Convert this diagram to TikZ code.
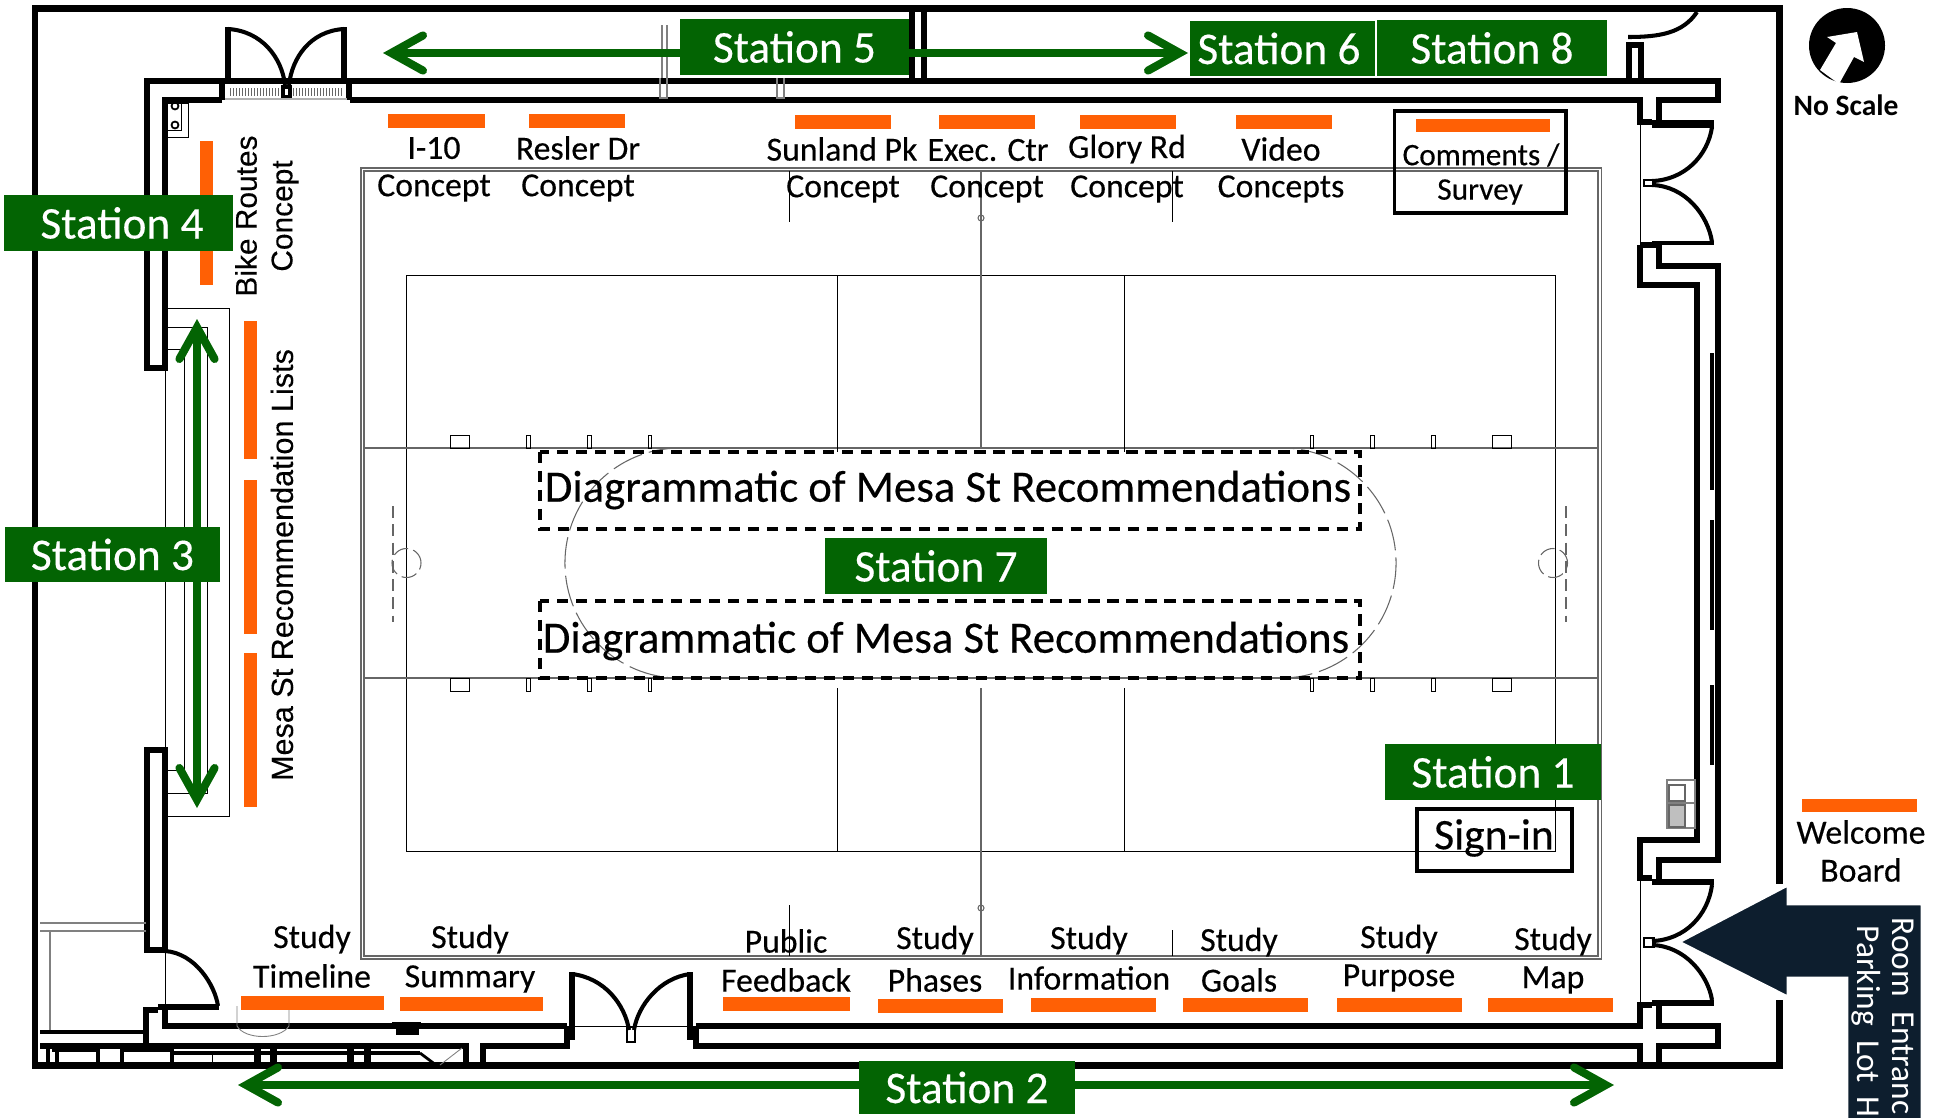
\documentclass[tikz,border=0pt]{standalone}
\usepackage{fontspec}
\setmainfont{Carlito}
\newfontfamily\heavyfont[FakeBold=0.35]{Carlito}
\newfontfamily\arialfont[FakeBold=0.2]{Liberation Sans}
\usetikzlibrary{arrows.meta}
\definecolor{stgreen}{HTML}{036403}
\definecolor{barorange}{HTML}{FF6005}
\definecolor{navy}{HTML}{0D1E2E}
\tikzset{
	wall/.style={line width=1.45pt,line join=miter},
	outerwall/.style={line width=1.9pt,line join=miter},
	door/.style={line width=1.15pt},
	thin/.style={line width=0.25pt},
	court/.style={line width=0.3pt,black!60},
	station/.style={fill=stgreen,text=white,inner sep=0pt,font=\heavyfont\fontsize{12.9}{14}\selectfont},
	lab/.style={inner sep=0pt,font=\heavyfont\fontsize{9.6}{11}\selectfont},
	side/.style={inner sep=0pt,rotate=90,font=\arialfont\fontsize{8.5}{10}\selectfont},
	bar/.style={fill=barorange,draw=none},
	walkway/.style={line width=2.3pt,stgreen,line cap=round},
	tipbarb/.tip={Straight Barb[length=9pt,width=10pt,line cap=round,line join=miter]},
	signbox/.style={draw,line width=1.1pt,inner sep=0pt},
	dashbox/.style={line width=1pt,dash pattern=on 3.2pt off 2.2pt}
}
\begin{document}
\begin{tikzpicture}[x=0.01cm,y=-0.01cm]
	\useasboundingbox (0,0) rectangle (1939,1118);

	\draw[court] (361,168) rectangle (1601.5,959);
	\draw[court] (364,171) rectangle (1598,956);
	\draw[thin] (406,275) rectangle (1555,851);
	\draw[court] (364,448) -- (1598,448);
	\draw[court] (364,678) -- (1598,678);
	\draw[thin] (837,275) -- (837,452);
	\draw[thin] (1124,275) -- (1124,452);
	\draw[thin] (837,688) -- (837,851);
	\draw[thin] (1124,688) -- (1124,851);
	\draw[court] (981,171) -- (981,448);
	\draw[court] (981,688) -- (981,956);
	\draw[court] (981,218) circle (3);
	\draw[court] (981,908) circle (3);
	\draw[thin] (789,171) -- (789,222);
	\draw[thin] (1172,171) -- (1172,222);
	\draw[thin] (789,905) -- (789,956);
	\draw[thin] (1172,930) -- (1172,956);

	\draw[thin] (450,435) rectangle (469,448);
	\draw[thin] (526,435) rectangle (530,448);
	\draw[thin] (587,435) rectangle (591,448);
	\draw[thin] (648,435) rectangle (651,448);
	\draw[thin] (450,678) rectangle (469,691);
	\draw[thin] (526,678) rectangle (530,691);
	\draw[thin] (587,678) rectangle (591,691);
	\draw[thin] (648,678) rectangle (651,691);
	\draw[thin] (1492,435) rectangle (1511,448);
	\draw[thin] (1431,435) rectangle (1435,448);
	\draw[thin] (1370,435) rectangle (1374,448);
	\draw[thin] (1310,435) rectangle (1313,448);
	\draw[thin] (1492,678) rectangle (1511,691);
	\draw[thin] (1431,678) rectangle (1435,691);
	\draw[thin] (1370,678) rectangle (1374,691);
	\draw[thin] (1310,678) rectangle (1313,691);

	\draw[court,dash pattern=on 3.4pt off 1.8pt] (393,506) -- (393,622);
	\draw[court,dash pattern=on 3.4pt off 1.8pt] (1566,506) -- (1566,622);
	\draw[court,dash pattern=on 4.5pt off 1.5pt] (406.5,563) circle[radius=.145cm];
	\draw[court,dash pattern=on 4.5pt off 1.5pt] (1553,563) circle[radius=.145cm];
	\draw[court,dash pattern=on 9pt off 2pt] (680,448) arc[start angle=90,end angle=270,radius=1.15cm];
	\draw[court,dash pattern=on 9pt off 2pt] (1281,678) arc[start angle=270,end angle=450,radius=1.15cm];

	\draw[outerwall] (35,8.5) rectangle (1779.5,1065.5);
	\fill[white] (1770,884) rectangle (1790,1000);

	\draw[wall] (222,100) -- (165,100) -- (165,368) -- (147,368) -- (147,81) -- (1718,81) -- (1718,100) -- (1659,100) -- (1659,122);
	\draw[wall] (350,100) -- (1640,100) -- (1640,122) -- (1652,122);
	\draw[wall] (222,81) -- (222,100);
	\draw[wall] (349,81) -- (349,100);
	\draw[wall] (912,8.5) -- (912,81);
	\draw[wall] (924,8.5) -- (924,81);
	\draw[wall] (228,27) -- (228,81);
	\draw[wall] (344,27) -- (344,81);
	\draw[door] (228,29) .. controls (262,31) and (282,58) .. (285,85);
	\draw[door] (344,29) .. controls (310,31) and (292,58) .. (289,85);
	\draw[line width=1pt] (283,87) rectangle (290,97);
	\foreach \hx in {230,233,...,280,293,296,...,342} {\draw[line width=0.2pt,black!60] (\hx,88) -- (\hx,96);}
	\draw[line width=0.3pt,black!30] (225,99) -- (347,99);

	\draw[thin] (167,103) rectangle (188,137);
	\draw[thin] (167,103) rectangle (181,130);
	\draw[line width=0.5pt] (175,106) circle (3.5);
	\draw[line width=0.5pt] (175,125) circle (3.5);

	\draw[thin] (165,308) -- (229,308) -- (229,816) -- (165,816);
	\draw[thin] (165,327) -- (207,327) -- (207,793) -- (165,793);
	\draw[thin] (165,349) -- (184,349) -- (184,770) -- (165,770);
	\draw[thin] (165,368) -- (165,750);

	\draw[wall] (147,750) rectangle (165,950);
	\draw[door] (165,951) .. controls (195,953) and (215,985) .. (218,1006);
	\draw[thin] (165,951) -- (165,1008);
	\draw[line width=1.7pt] (158,1007) -- (219,1007);
	\draw[wall] (158,1010) -- (146,1010) -- (146,1046);
	\draw[wall] (165,1010) -- (165,1026) -- (567,1026);
	\fill (392,1022) rectangle (421,1028);
	\fill (396,1028) rectangle (419,1035);
	\draw[thin,black!50] (237,1006) -- (237,1026) .. controls (245,1040) and (280,1040) .. (289,1026) -- (289,1006);

	\draw[wall] (40,1046) -- (466,1046) -- (466,1065);
	\draw[wall] (483,1065) -- (483,1046) -- (567,1046) -- (567,1026);
	\draw[wall] (696,1026) -- (696,1046) -- (1640,1046) -- (1640,1065);
	\draw[wall] (696,1026) -- (1640,1026) -- (1640,1005) -- (1652,1005);
	\draw[wall] (572,972) -- (572,1040);
	\draw[wall] (690,972) -- (690,1040);
	\draw[door] (572,974) .. controls (605,978) and (625,1005) .. (629,1030);
	\draw[door] (690,974) .. controls (660,978) and (638,1005) .. (634,1030);
	\draw[line width=0.6pt] (627,1027) rectangle (635,1042);
	\draw[thin] (572,1026) -- (690,1026);

	\draw[line width=1.2pt] (48,1046) -- (48,1065);
	\draw[line width=1.2pt] (57,1046) -- (57,1065);
	\draw[line width=1.2pt] (98,1046) -- (98,1065);
	\draw[line width=1.2pt] (122,1046) -- (122,1065);
	\draw[line width=1.2pt] (172,1046) -- (172,1065);
	\draw[line width=1.2pt] (52,1050) -- (96,1050);
	\draw[line width=1.2pt] (124,1050) -- (172,1050);
	\draw[line width=1pt] (172,1053) -- (420,1053);
	\draw[thin] (212,1053) -- (212,1065);
	\fill (254,1046) rectangle (261,1065);
	\fill (270,1046) rectangle (277,1065);
	\fill (347,1046) rectangle (354,1065);
	\fill (364,1046) rectangle (371,1065);
	\draw[line width=0.8pt] (420,1053) -- (436,1065);
	\draw[thin,black!50] (440,1065) -- (462,1048);
	\draw[line width=0.4pt,black!50] (40,931) -- (68,931);
	\draw[line width=0.3pt,black!50] (40,923) -- (146,923);
	\draw[line width=0.3pt,black!50] (40,931) -- (146,931);
	\draw[line width=0.3pt,black!50] (50,931) -- (50,1030);
	\draw[line width=1pt] (40,1032) -- (146,1032);

	\draw[wall] (1640,245) -- (1640,285) -- (1697,285) -- (1697,840) -- (1640,840) -- (1640,878) -- (1652,878);
	\draw[wall] (1652,245) -- (1659,245) -- (1659,266) -- (1718,266) -- (1718,860) -- (1659,860) -- (1659,880);
	\draw[wall] (1659,1005) -- (1659,1026) -- (1718,1026) -- (1718,1046) -- (1659,1046) -- (1659,1065);
	\draw[wall] (1640,245) -- (1652,245);
	\draw[line width=1.1pt] (1712,353) -- (1712,490);
	\draw[line width=1.1pt] (1712,520) -- (1712,630);
	\draw[line width=1.1pt] (1712,685) -- (1712,765);

	\draw[line width=2pt] (1652,124) -- (1714,124);
	\draw[door] (1712,127) .. controls (1708,155) and (1685,180) .. (1652,181);
	\draw[door] (1652,185) .. controls (1685,186) and (1708,215) .. (1712,242);
	\draw[line width=0.7pt] (1644,180) rectangle (1654,186);
	\draw[line width=1.4pt] (1652,243) -- (1714,243);
	\draw[thin] (1640,122) -- (1640,245);

	\draw[line width=1.6pt] (1652,882) -- (1714,882);
	\draw[door] (1712,885) .. controls (1708,915) and (1685,940) .. (1652,941);
	\draw[door] (1652,945) .. controls (1685,946) and (1708,975) .. (1712,1000);
	\draw[line width=0.7pt] (1644,938) rectangle (1654,947);
	\draw[line width=1.6pt] (1652,1003) -- (1714,1003);
	\draw[thin] (1640,880) -- (1640,1005);

	\draw[wall] (1629,78) -- (1629,45) -- (1641,45) -- (1641,78);
	\draw[door] (1628,37) .. controls (1660,37) and (1683,33) .. (1697,12);

	\draw[line width=0.3pt,black!50] (1667,780) rectangle (1695,828);
	\draw[line width=0.3pt,black!50] (1667,803) -- (1695,803);
	\draw[line width=0.3pt,black!60] (1669,785) rectangle (1685,801);
	\draw[line width=0.3pt,black!60,fill=black!25] (1669,805) rectangle (1685,827);

	\draw[line width=0.3pt,black!50] (660,78) -- (660,98) -- (667,98) -- (667,78);
	\draw[line width=0.3pt,black!50] (777,78) -- (777,98) -- (784,98) -- (784,78);
	\draw[line width=0.3pt,black!50] (662,25) -- (662,78);
	\draw[line width=0.3pt,black!50] (667,25) -- (667,78);

	\node[bar,inner sep=0pt,minimum width=.97cm,minimum height=.14cm] (b1) at (436.5,121) {};
	\node[bar,inner sep=0pt,minimum width=.96cm,minimum height=.14cm] (b2) at (577,121) {};
	\node[bar,inner sep=0pt,minimum width=.96cm,minimum height=.14cm] (b3) at (843,122) {};
	\node[bar,inner sep=0pt,minimum width=.96cm,minimum height=.14cm] (b4) at (987,122) {};
	\node[bar,inner sep=0pt,minimum width=.96cm,minimum height=.14cm] (b5) at (1128,122) {};
	\node[bar,inner sep=0pt,minimum width=.96cm,minimum height=.14cm] (b6) at (1284,122) {};
	\node[bar,inner sep=0pt,minimum width=1.34cm,minimum height=.13cm] (b7) at (1483,125.5) {};
	\node[bar,inner sep=0pt,minimum width=.13cm,minimum height=1.44cm] (b8) at (206.5,213) {};
	\node[bar,inner sep=0pt,minimum width=.13cm,minimum height=1.38cm] (b9) at (250.5,390) {};
	\node[bar,inner sep=0pt,minimum width=.13cm,minimum height=1.54cm] (b10) at (250.5,557) {};
	\node[bar,inner sep=0pt,minimum width=.13cm,minimum height=1.54cm] (b11) at (250.5,730) {};
	\node[bar,inner sep=0pt,minimum width=1.43cm,minimum height=.14cm] (b12) at (312.5,1003) {};
	\node[bar,inner sep=0pt,minimum width=1.43cm,minimum height=.14cm] (b13) at (471.5,1003.5) {};
	\node[bar,inner sep=0pt,minimum width=1.27cm,minimum height=.14cm] (b14) at (786.5,1004) {};
	\node[bar,inner sep=0pt,minimum width=1.25cm,minimum height=.14cm] (b15) at (940.5,1006) {};
	\node[bar,inner sep=0pt,minimum width=1.25cm,minimum height=.14cm] (b16) at (1093.5,1005) {};
	\node[bar,inner sep=0pt,minimum width=1.25cm,minimum height=.14cm] (b17) at (1245.5,1005) {};
	\node[bar,inner sep=0pt,minimum width=1.25cm,minimum height=.14cm] (b18) at (1399.5,1004.5) {};
	\node[bar,inner sep=0pt,minimum width=1.25cm,minimum height=.14cm] (b19) at (1550.5,1005) {};
	\node[bar,inner sep=0pt,minimum width=1.15cm,minimum height=.13cm] (b20) at (1859.5,805.5) {};

	\node[lab] (t1) at (434,148) {I-10};
	\node[lab] (t2) at (434,188) {Concept};
	\node[lab] (t3) at (578,148) {Resler Dr};
	\node[lab] (t4) at (578,188) {Concept};
	\node[lab] (t5) at (842,149) {Sunland Pk};
	\node[lab] (t6) at (843,189) {Concept};
	\node[lab] (t7) at (988,150) {Exec. Ctr};
	\node[lab] (t8) at (987,189) {Concept};
	\node[lab] (t9) at (1127,149) {Glory Rd};
	\node[lab] (t10) at (1127,189) {Concept};
	\node[lab] (t11) at (1281,149) {Video};
	\node[lab] (t12) at (1281,189) {Concepts};
	\node[lab,font=\heavyfont\fontsize{8.9}{11}\selectfont] (t13) at (1481,155) {Comments /};
	\node[lab,font=\heavyfont\fontsize{8.9}{11}\selectfont] (t14) at (1480,192) {Survey};
	\node[lab] (t15) at (312,939) {Study};
	\node[lab] (t16) at (312,976) {Timeline};
	\node[lab] (t17) at (470,939) {Study};
	\node[lab] (t18) at (470,979) {Summary};
	\node[lab] (t19) at (786,941) {Public};
	\node[lab] (t20) at (786,980) {Feedback};
	\node[lab] (t21) at (935,940) {Study};
	\node[lab] (t22) at (935,980) {Phases};
	\node[lab] (t23) at (1089,940) {Study};
	\node[lab] (t24) at (1089,978) {Information};
	\node[lab] (t25) at (1239,942) {Study};
	\node[lab] (t26) at (1239,980) {Goals};
	\node[lab] (t27) at (1399,939) {Study};
	\node[lab] (t28) at (1399,978) {Purpose};
	\node[lab] (t29) at (1553,941) {Study};
	\node[lab] (t30) at (1553,980) {Map};
	\node[lab] (t31) at (1861,832) {Welcome};
	\node[lab] (t32) at (1861,870) {Board};
	\node[lab,font=\bfseries\fontsize{8.4}{10}\selectfont] (t33) at (1846,105) {No Scale};
	\node[side] (t34) at (246,216) {Bike Routes};
	\node[side] (t35) at (285,216) {Concept};
	\node[side,font=\arialfont\fontsize{8.7}{10}\selectfont] (t36) at (282,565) {Mesa St Recommendation Lists};

	\draw[line width=1.1pt] (1394.5,111) rectangle (1566,213);
	\node[signbox,minimum width=1.55cm,minimum height=.62cm] (signin) at (1494.5,840) {};
	\node[inner sep=0pt,font=\heavyfont\fontsize{12.4}{14}\selectfont] (signtext) at (1494,838) {Sign-in};

	\draw[dashbox] (540,452) rectangle (1360,529);
	\draw[dashbox] (540,601) rectangle (1360,678);
	\node[inner sep=0pt,font=\heavyfont\fontsize{12.75}{14}\selectfont] (diag1) at (948,490) {Diagrammatic of Mesa St Recommendations};
	\node[inner sep=0pt,font=\heavyfont\fontsize{12.75}{14}\selectfont] (diag2) at (946,641) {Diagrammatic of Mesa St Recommendations};

	\coordinate (a5l) at (383,53);
	\coordinate (a5r) at (1188,53);
	\coordinate (a3t) at (197,319);
	\coordinate (a3b) at (197,808);
	\coordinate (a2l) at (238,1085);
	\coordinate (a2r) at (1614,1085);
	\draw[walkway,-{tipbarb}] (700,53) -- (a5l);
	\draw[walkway,-{tipbarb}] (900,53) -- (a5r);
	\draw[walkway,{tipbarb}-{tipbarb}] (a3t) -- (a3b);
	\draw[walkway,{tipbarb}-{tipbarb}] (a2l) -- (a2r);

	\node[station,minimum width=2.29cm,minimum height=.56cm] (st4) at (118.5,223) {\hspace*{2pt}Station 4};
	\node[station,minimum width=2.15cm,minimum height=.55cm] (st3) at (112.5,554.5) {Station 3};
	\node[station,minimum width=2.29cm,minimum height=.56cm] (st5) at (794.5,47) {Station 5};
	\node[station,minimum width=1.85cm,minimum height=.55cm] (st6) at (1282.5,48.5) {Station 6\hspace*{2pt}};
	\node[station,minimum width=2.30cm,minimum height=.56cm] (st8) at (1492,48) {Station 8};
	\node[station,minimum width=2.22cm,minimum height=.56cm] (st7) at (936,566) {Station 7};
	\node[station,minimum width=2.165cm,minimum height=.56cm] (st1) at (1493,772) {Station 1};
	\node[station,minimum width=2.16cm,minimum height=.53cm] (st2) at (967,1087.5) {Station 2};

	\fill[navy,draw=white,line width=0.8pt] (1679,942) -- (1788,885) -- (1788,904) -- (1922,904) -- (1922,1125) -- (1847,1125) -- (1847,978) -- (1788,978) -- (1788,997) -- cycle;
	\node[inner sep=0pt,text=white,rotate=-90,anchor=west,font=\fontsize{9.5}{11}\selectfont] (room) at (1903,917) {Room\hspace{4pt}Entranc};
	\node[inner sep=0pt,text=white,rotate=-90,anchor=west,font=\fontsize{9.5}{11}\selectfont] (lot) at (1866,925) {Parking\hspace{4pt}Lot\hspace{4pt}H};

	\fill (1847,45.5) ellipse (38 and 37.5);
	\fill[white] (1857,32) -- (1827,37) -- (1836,43) -- (1820,70) -- (1839,84) -- (1854,57) -- (1864,62) -- cycle;

\end{tikzpicture}
\end{document}
